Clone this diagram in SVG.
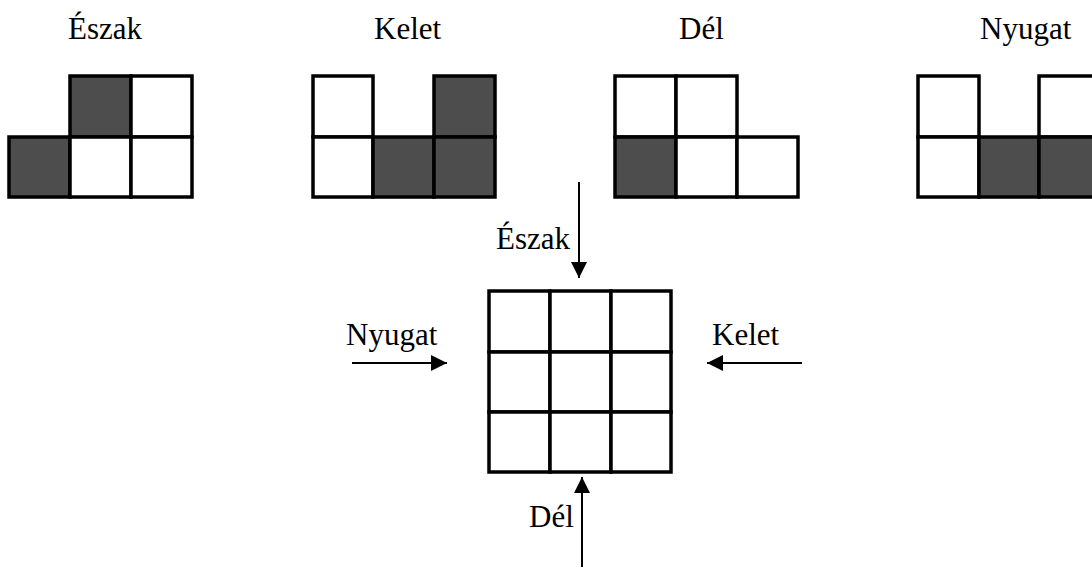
<svg xmlns="http://www.w3.org/2000/svg" width="1092" height="570" viewBox="0 0 1092 570">
<style>
.c{fill:#fff;stroke:#000;stroke-width:3.5}
.d{fill:#4d4d4d;stroke:#000;stroke-width:3.5}
.t{font-family:"Liberation Serif",serif;font-size:31px;fill:#000}
.a{stroke:#000;stroke-width:2;fill:none}
</style>
<defs>
<marker id="ah" markerWidth="17" markerHeight="18" refX="16" refY="9" orient="auto" markerUnits="userSpaceOnUse">
<path d="M0,1 L16,9 L0,17 Z" fill="#000"/>
</marker>
</defs>
<rect width="1092" height="570" fill="#fff"/>
<g id="labels">
<text class="t" x="68" y="39">Észak</text>
<text class="t" x="374" y="39">Kelet</text>
<text class="t" x="679" y="39">Dél</text>
<text class="t" x="980" y="39">Nyugat</text>
</g>
<g id="piece-eszak">
<rect class="d" x="70" y="76" width="61" height="61"/>
<rect class="c" x="131" y="76" width="61" height="61"/>
<rect class="d" x="9" y="137" width="61" height="60"/>
<rect class="c" x="70" y="137" width="61" height="60"/>
<rect class="c" x="131" y="137" width="61" height="60"/>
</g>
<g id="piece-kelet">
<rect class="c" x="313" y="76" width="60" height="61"/>
<rect class="d" x="434" y="76" width="61" height="61"/>
<rect class="c" x="313" y="137" width="60" height="60"/>
<rect class="d" x="373" y="137" width="61" height="60"/>
<rect class="d" x="434" y="137" width="61" height="60"/>
</g>
<g id="piece-del">
<rect class="c" x="615" y="76" width="61" height="61"/>
<rect class="c" x="676" y="76" width="61" height="61"/>
<rect class="d" x="615" y="137" width="61" height="60"/>
<rect class="c" x="676" y="137" width="61" height="60"/>
<rect class="c" x="737" y="137" width="61" height="60"/>
</g>
<g id="piece-nyugat">
<rect class="c" x="918" y="76" width="61" height="61"/>
<rect class="c" x="1039" y="76" width="61" height="61"/>
<rect class="c" x="918" y="137" width="61" height="60"/>
<rect class="d" x="979" y="137" width="60" height="60"/>
<rect class="d" x="1039" y="137" width="61" height="60"/>
</g>
<g id="board">
<rect class="c" x="489" y="291" width="61" height="61"/>
<rect class="c" x="550" y="291" width="61" height="61"/>
<rect class="c" x="611" y="291" width="60" height="61"/>
<rect class="c" x="489" y="352" width="61" height="60"/>
<rect class="c" x="550" y="352" width="61" height="60"/>
<rect class="c" x="611" y="352" width="60" height="60"/>
<rect class="c" x="489" y="412" width="61" height="60"/>
<rect class="c" x="550" y="412" width="61" height="60"/>
<rect class="c" x="611" y="412" width="60" height="60"/>
</g>
<g id="connectors">
<line class="a" x1="579" y1="182" x2="579" y2="278" marker-end="url(#ah)"/>
<line class="a" x1="352" y1="363" x2="447" y2="363" marker-end="url(#ah)"/>
<line class="a" x1="802" y1="363" x2="707" y2="363" marker-end="url(#ah)"/>
<line class="a" x1="582" y1="567" x2="582" y2="477" marker-end="url(#ah)"/>
</g>
<g id="arrow-labels">
<text class="t" x="496" y="249">Észak</text>
<text class="t" x="346" y="345">Nyugat</text>
<text class="t" x="712" y="345">Kelet</text>
<text class="t" x="529" y="527">Dél</text>
</g>
</svg>
